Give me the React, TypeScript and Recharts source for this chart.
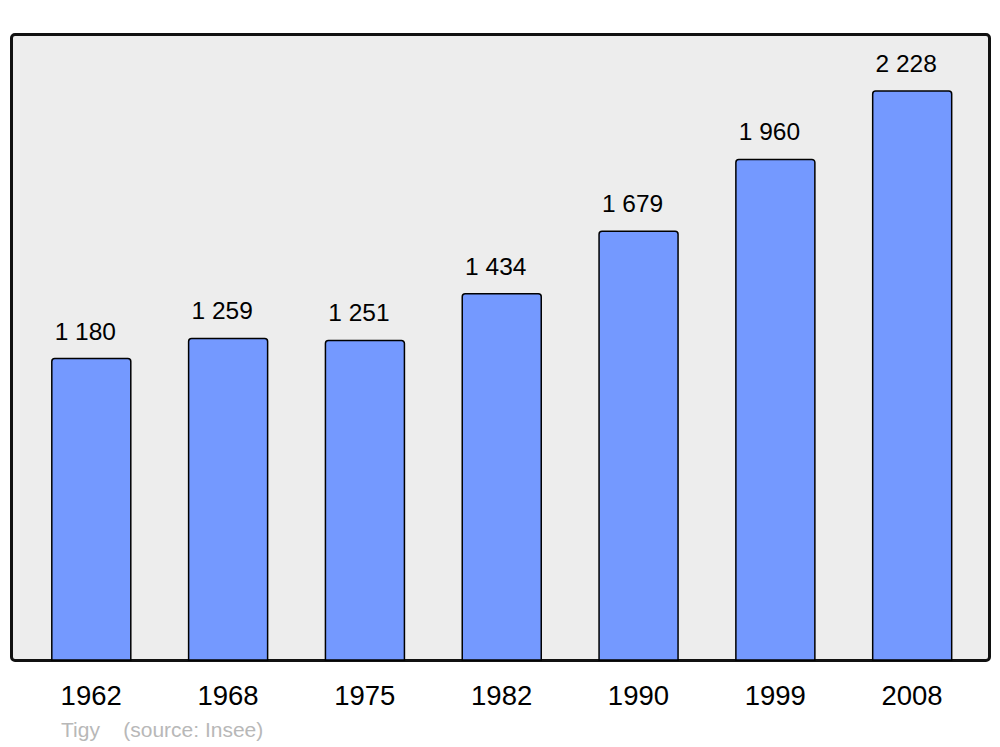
import React from 'react';
import { BarChart, Bar, XAxis, YAxis, LabelList } from 'recharts';

const years: string[] = ['1962', '1968', '1975', '1982', '1990', '1999', '2008'];
const population: number[] = [1180, 1259, 1251, 1434, 1679, 1960, 2228];

const data = years.map((y, i) => ({ year: y, pop: population[i] }));

const fmt = (v: any) => String(v).replace(/\B(?=(\d{3})+(?!\d))/g, ' ');

export default function App() {
  return (
    <div style={{ position: 'absolute', left: 0, top: 0, width: 1000, height: 747, fontFamily: '"Liberation Sans", Arial, sans-serif' }}>
      <div
        style={{
          position: 'absolute',
          left: 9.5,
          top: 32.5,
          width: 981,
          height: 629,
          boxSizing: 'border-box',
          border: '3px solid #111',
          borderRadius: 5,
          background: '#ededed',
        }}
      />
      <div style={{ position: 'absolute', left: 0, top: 0 }}>
        <BarChart width={1000} height={747} data={data} margin={{ top: 34, right: 19.5, bottom: 57, left: 22.8 }}>
          <XAxis
            dataKey="year"
            height={30}
            axisLine={false}
            tickLine={false}
            tickSize={0}
            tickMargin={25}
            interval={0}
            tick={{ fill: '#000', fontSize: 27.5, fontFamily: '"Liberation Sans", Arial, sans-serif' }}
          />
          <YAxis hide domain={[0, 2451]} />
          <Bar dataKey="pop" fill="#7499ff" stroke="#000" strokeWidth={1.5} barSize={79} radius={[3, 3, 0, 0]} isAnimationActive={false}>
            <LabelList
              dataKey="pop"
              position="top"
              offset={19}
              dx={-6}
              formatter={fmt}
              style={{ fill: '#000', fontSize: 24.5, fontFamily: '"Liberation Sans", Arial, sans-serif' }}
            />
          </Bar>
        </BarChart>
      </div>
      <div style={{ position: 'absolute', left: 61, top: 717, fontSize: 21, color: '#b8b8b8', whiteSpace: 'pre', lineHeight: '26px' }}>
        {'Tigy    (source: Insee)'}
      </div>
    </div>
  );
}
